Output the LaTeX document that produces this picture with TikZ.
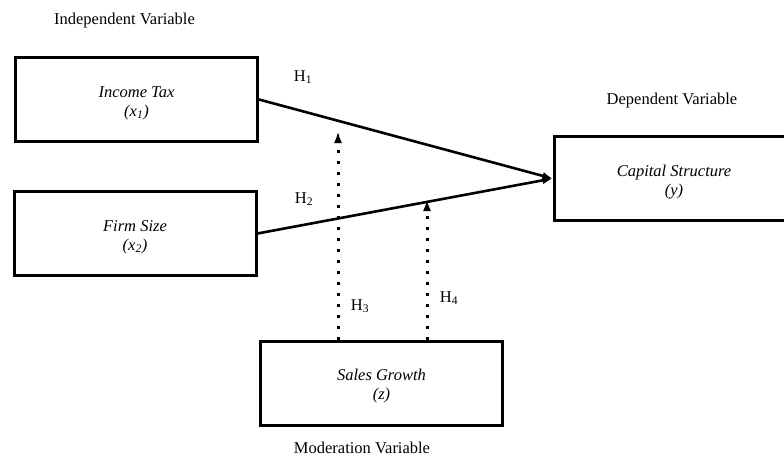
\documentclass[tikz,border=0pt]{standalone}
\usepackage{fontspec}
\setmainfont{Liberation Serif}
\usetikzlibrary{arrows.meta, positioning}

% two centred lines, set a little lower in the box
\newcommand{\boxlines}[2]{\raisebox{-3.5pt}[\height][\depth]{#1}\\\raisebox{-3.5pt}[\height][\depth]{#2}}

\begin{document}
\begin{tikzpicture}[
    x=1pt, y=-1pt,
    varbox/.style={draw, line width=3pt, minimum width=242pt,
                   minimum height=84pt, align=center,
                   font=\fontsize{16.5}{19}\selectfont\itshape},
    caption/.style={font=\fontsize{16.5}{19}\selectfont},
    hlabel/.style={font=\fontsize{16.5}{19}\selectfont},
    arrow/.style={-{Latex[length=10pt,width=8pt]}, line width=2.6pt},
    modarrow/.style={-{Latex[length=12pt,width=8pt]}, line width=3pt,
                     dash pattern=on 3pt off 8pt}
]
\useasboundingbox (0,0) rectangle (784,458);

\node[varbox] (income) at (136.5,99.5) {\boxlines{Income Tax}{(x\textsubscript{1})}};
\node[varbox] (firmsize) at (135,233.5) {\boxlines{Firm Size}{(x\textsubscript{2})}};
\node[varbox, minimum width=240pt] (capital) at (674,178.5) {\boxlines{Capital Structure}{(y)}};
\node[varbox] (sales) at (381.5,383) {\boxlines{Sales Growth}{(z)}};

\node[caption] (indep) at (124.5,21) {Independent Variable};
\node[caption] (dep) at (672,101) {Dependent Variable};
\node[caption] (moder) at (362,448) {Moderation Variable};

% direct effects
\draw[arrow] (income.east) -- (capital.west);
\draw[arrow] (firmsize.east) -- (capital.west);

% moderation
\coordinate (tip3) at (338,131);
\coordinate (tip4) at (427,199);
\draw[modarrow] (sales.north -| tip3) -- (tip3);
\draw[modarrow] (sales.north -| tip4) -- (tip4);

\node[hlabel] (h1) at (303,77) {H\textsubscript{1}};
\node[hlabel] (h2) at (304,199) {H\textsubscript{2}};
\node[hlabel] (h3) at (360,306) {H\textsubscript{3}};
\node[hlabel] (h4) at (449,298) {H\textsubscript{4}};
\end{tikzpicture}
\end{document}
